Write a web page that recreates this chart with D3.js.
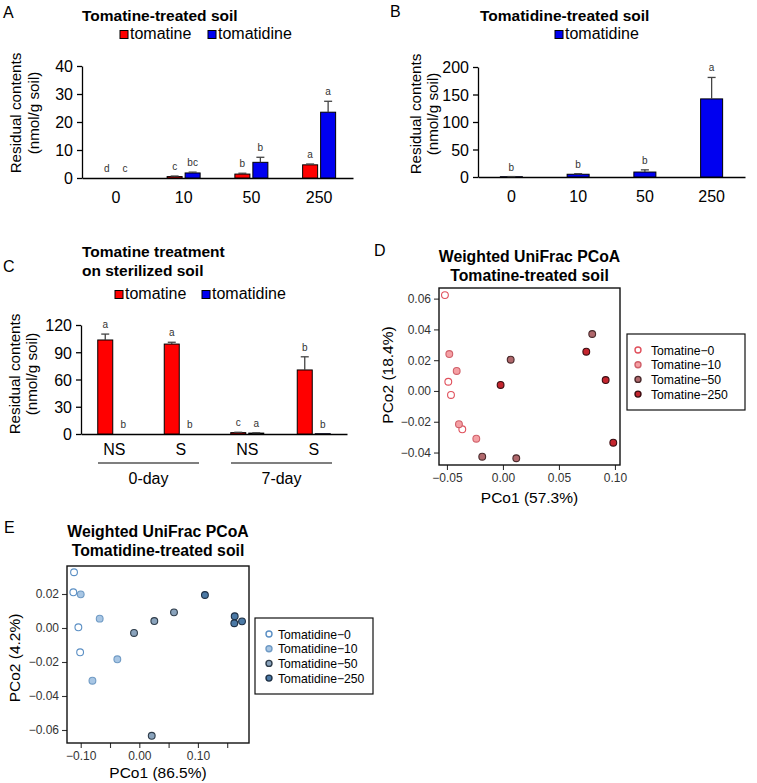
<!DOCTYPE html>
<html><head><meta charset="utf-8">
<script src="https://cdn.jsdelivr.net/npm/d3@7"></script>
<style>
body{margin:0;background:#fff}
svg{display:block}
text{font-family:"Liberation Sans",Arial,Helvetica,sans-serif}
</style>
</head><body>
<svg id="fig" width="757" height="783"></svg>
<script>
// ---------------- DATA ----------------
const doseLabels = ["0", "10", "50", "250"];
const tomatineA = [0, 0.5, 1.4, 4.7];
const tomatineAErr = [0, 0.2, 0.3, 0.3];
const tomatidineA = [0, 1.8, 5.6, 23.5];
const tomatidineAErr = [0, 0.3, 1.8, 3.9];
const tomatineALetters = ["d", "c", "b", "a"];
const tomatidineALetters = ["c", "bc", "b", "a"];
const ticksA = [0, 10, 20, 30, 40];

const tomatidineB = [0.5, 5, 9, 142];
const tomatidineBErr = [0.3, 1, 4, 39];
const tomatidineBLetters = ["b", "b", "b", "a"];
const ticksB = [0, 50, 100, 150, 200];

const soilC = ["NS", "S", "NS", "S"];
const dayC = ["0-day", "7-day"];
const tomatineC = [103.5, 99, 1.5, 70.5];
const tomatineCErr = [6.5, 2, 0.4, 14.5];
const tomatidineC = [0, 0, 1, 0.3];
const tomatidineCErr = [0, 0, 0.3, 0];
const tomatineCLetters = ["a", "a", "c", "b"];
const tomatidineCLetters = ["b", "b", "a", "b"];
const ticksC = [0, 30, 60, 90, 120];

const groupsD = ["Tomatine\u22120", "Tomatine\u221210", "Tomatine\u221250", "Tomatine\u2212250"];
const pc1D = [-0.0518, -0.0488, -0.0464, -0.0363,
              -0.0479, -0.0413, -0.0393, -0.0238,
               0.0069,  0.0797, -0.0185,  0.0119,
              -0.0021,  0.0744,  0.0917,  0.0985];
const pc2D = [ 0.0623,  0.0060, -0.0026, -0.0249,
               0.0240,  0.0130, -0.0216, -0.0310,
               0.0203,  0.0370, -0.0427, -0.0437,
               0.0039,  0.0255,  0.0071, -0.0336];
const groupOfD = [0,0,0,0, 1,1,1,1, 2,2,2,2, 3,3,3,3];
const xTicksD = [-0.05, 0, 0.05, 0.10];
const yTicksD = [-0.04, -0.02, 0, 0.02, 0.04, 0.06];

const groupsE = ["Tomatidine\u22120", "Tomatidine\u221210", "Tomatidine\u221250", "Tomatidine\u2212250"];
const pc1E = [-0.1114, -0.1126, -0.1040, -0.1010,
              -0.1000, -0.0676, -0.0375, -0.0800,
              -0.0090,  0.0256,  0.0592,  0.0212,
               0.1120,  0.1628,  0.1621,  0.1753];
const pc2E = [ 0.0328,  0.0210,  0.0004, -0.0143,
               0.0198,  0.0055, -0.0184, -0.0310,
              -0.0029,  0.0041,  0.0092, -0.0634,
               0.0194,  0.0069,  0.0028,  0.0039];
const groupOfE = [0,0,0,0, 1,1,1,1, 2,2,2,2, 3,3,3,3];
const xTicksE = [-0.10, -0.05, 0, 0.05, 0.10, 0.15];
const xTickLabelsE = ["\u22120.10", "", "0.00", "", "0.10", ""];
const yTicksE = [-0.06, -0.04, -0.02, 0, 0.02];

// ---------------- STYLES ----------------
const RED = "#ff0000", BLUE = "#0000f0";
const fillD = ["#ffffff", "#f5a0a4", "#b0686c", "#c4252e"];
const strokeD = ["#e0505c", "#d0606a", "#4a2a2c", "#3a0c10"];
const fillE = ["#ffffff", "#a8c6e4", "#8aa3bc", "#4b79a5"];
const strokeE = ["#5b8fc4", "#6f9ac4", "#2e3c4a", "#1e3045"];
const TITLE_FS = 15.5, LEG_FS = 16;

const svg = d3.select("#fig");
svg.append("rect").attr("width", 757).attr("height", 783).attr("fill", "#fff");

function panelLabel(t, x, y) {
  svg.append("text").attr("x", x).attr("y", y).attr("font-size", 16).text(t);
}

function yLabel2(x1, x2, cy) {
  svg.append("text").attr("transform", `translate(${x1},${cy}) rotate(-90)`)
    .attr("text-anchor", "middle").attr("font-size", 15.2).text("Residual contents");
  svg.append("text").attr("transform", `translate(${x2},${cy}) rotate(-90)`)
    .attr("text-anchor", "middle").attr("font-size", 15.2).text("(nmol/g soil)");
}

function legendSq(x, yb, color, label) {
  svg.append("rect").attr("x", x).attr("y", yb - 8.5).attr("width", 8).attr("height", 8)
    .attr("fill", color).attr("stroke", "#000").attr("stroke-width", 1);
  svg.append("text").attr("x", x + 10).attr("y", yb).attr("font-size", LEG_FS).text(label);
}

function styleAxis(g, fs) {
  g.selectAll("text").attr("font-family", "Liberation Sans, Arial, sans-serif")
    .attr("font-size", fs).attr("fill", "#000");
  g.selectAll("path,line").attr("stroke", "#000").attr("stroke-width", 1.3);
}

// generic bar chart
function barChart(o) {
  const x = d3.scaleBand().domain(d3.range(o.cats.length)).range([o.x0, o.x1]);
  const y = d3.scaleLinear().domain([0, o.ymax]).range([o.y0, o.y1]);
  const gy = svg.append("g").attr("transform", `translate(${o.x0},0)`)
    .call(d3.axisLeft(y).tickValues(o.ticks).tickSize(5).tickSizeOuter(0).tickPadding(4));
  styleAxis(gy, 16);
  gy.selectAll("text").attr("dy", "0.36em");
  const gx = svg.append("g").attr("transform", `translate(0,${o.y0})`)
    .call(d3.axisBottom(x).tickSize(0).tickSizeOuter(0).tickPadding(o.xpad).tickFormat(i => o.cats[i]));
  styleAxis(gx, 16);
  o.series.forEach(s => {
    const g = svg.append("g");
    const cx = i => x(i) + x.bandwidth() / 2 + s.off;
    g.selectAll("rect").data(s.vals).join("rect")
      .attr("x", (d, i) => cx(i) - s.w / 2).attr("width", s.w)
      .attr("y", d => y(d)).attr("height", d => y(0) - y(d))
      .attr("fill", s.color).attr("stroke", d => d > 0 ? "#000" : "none").attr("stroke-width", 1);
    s.vals.forEach((v, i) => {
      const e = s.err[i];
      if (e > 0) {
        g.append("line").attr("x1", cx(i)).attr("x2", cx(i)).attr("y1", y(v)).attr("y2", y(v + e))
          .attr("stroke", "#444").attr("stroke-width", 1.3);
        g.append("line").attr("x1", cx(i) - 4).attr("x2", cx(i) + 4).attr("y1", y(v + e)).attr("y2", y(v + e))
          .attr("stroke", "#444").attr("stroke-width", 1.3);
      }
      g.append("text").attr("x", cx(i)).attr("y", y(v + e) - 6).attr("text-anchor", "middle")
        .attr("font-size", 10).attr("fill", "#333").text(s.letters[i]);
    });
  });
  return { x, y };
}

// ---------- Panel A ----------
panelLabel("A", 3, 18);
svg.append("text").attr("x", 82).attr("y", 21).attr("font-size", TITLE_FS).attr("font-weight", "bold")
  .text("Tomatine-treated soil");
legendSq(120, 39, RED, "tomatine");
legendSq(208, 39, BLUE, "tomatidine");
yLabel2(21, 39, 113);
barChart({
  cats: doseLabels, x0: 82, x1: 353, y0: 178, y1: 66, ymax: 40, ticks: ticksA, xpad: 14,
  series: [
    { vals: tomatineA, err: tomatineAErr, letters: tomatineALetters, color: RED, off: -9, w: 15 },
    { vals: tomatidineA, err: tomatidineAErr, letters: tomatidineALetters, color: BLUE, off: 9, w: 15 }
  ]
});

// ---------- Panel B ----------
panelLabel("B", 390, 17);
svg.append("text").attr("x", 480).attr("y", 21).attr("font-size", TITLE_FS).attr("font-weight", "bold")
  .text("Tomatidine-treated soil");
legendSq(555, 39, BLUE, "tomatidine");
yLabel2(421, 438, 114);
barChart({
  cats: doseLabels, x0: 478, x1: 745, y0: 177, y1: 67, ymax: 200, ticks: ticksB, xpad: 14,
  series: [
    { vals: tomatidineB, err: tomatidineBErr, letters: tomatidineBLetters, color: BLUE, off: 0, w: 22 }
  ]
});

// ---------- Panel C ----------
panelLabel("C", 3, 272);
svg.append("text").attr("x", 82).attr("y", 257).attr("font-size", TITLE_FS).attr("font-weight", "bold")
  .text("Tomatine treatment");
svg.append("text").attr("x", 82).attr("y", 276).attr("font-size", TITLE_FS).attr("font-weight", "bold")
  .text("on sterilized soil");
legendSq(115, 299, RED, "tomatine");
legendSq(202, 299, BLUE, "tomatidine");
yLabel2(20, 37, 374);
const cC = barChart({
  cats: soilC, x0: 81, x1: 347, y0: 434, y1: 325, ymax: 120, ticks: ticksC, xpad: 10,
  series: [
    { vals: tomatineC, err: tomatineCErr, letters: tomatineCLetters, color: RED, off: -9, w: 15 },
    { vals: tomatidineC, err: tomatidineCErr, letters: tomatidineCLetters, color: BLUE, off: 9, w: 15 }
  ]
});
dayC.forEach((d, k) => {
  const a = cC.x(2 * k), b = cC.x(2 * k + 1) + cC.x.bandwidth();
  svg.append("line").attr("x1", a + 17).attr("x2", b - 15).attr("y1", 463).attr("y2", 463)
    .attr("stroke", "#000").attr("stroke-width", 1.2);
  svg.append("text").attr("x", (a + b) / 2 + 1).attr("y", 484).attr("text-anchor", "middle")
    .attr("font-size", 16).text(d);
});

// ---------- PCoA panels ----------
function pcoa(o) {
  const x = d3.scaleLinear().domain(o.xdom).range([o.left, o.right]);
  const y = d3.scaleLinear().domain(o.ydom).range([o.bottom, o.top]);
  const cx = (o.left + o.right) / 2;
  svg.append("text").attr("x", cx).attr("y", o.t1).attr("text-anchor", "middle")
    .attr("font-size", 15.8).attr("font-weight", "bold").text("Weighted UniFrac PCoA");
  svg.append("text").attr("x", cx).attr("y", o.t1 + 19).attr("text-anchor", "middle")
    .attr("font-size", 15.8).attr("font-weight", "bold").text(o.sub);
  const gx = svg.append("g").attr("transform", `translate(0,${o.bottom})`)
    .call(d3.axisBottom(x).tickValues(o.xticks).tickSize(5).tickSizeOuter(0).tickPadding(3)
      .tickFormat((d, i) => o.xlabels ? o.xlabels[i] : d3.format(".2f")(d)));
  const gy = svg.append("g").attr("transform", `translate(${o.left},0)`)
    .call(d3.axisLeft(y).tickValues(o.yticks).tickSize(5).tickSizeOuter(0).tickPadding(3)
      .tickFormat(d3.format(".2f")));
  [gx, gy].forEach(g => {
    g.select(".domain").remove();
    g.selectAll("line").attr("stroke", "#333").attr("stroke-width", 1.1);
    g.selectAll("text").attr("font-family", "Liberation Sans, Arial, sans-serif")
      .attr("font-size", 12).attr("fill", "#333");
  });
  svg.append("g").selectAll("circle").data(o.pc1).join("circle")
    .attr("cx", d => x(d)).attr("cy", (d, i) => y(o.pc2[i])).attr("r", 3.4)
    .attr("fill", (d, i) => o.fills[o.grp[i]]).attr("stroke", (d, i) => o.strokes[o.grp[i]])
    .attr("stroke-width", 1.1);
  svg.append("rect").attr("x", o.left).attr("y", o.top).attr("width", o.right - o.left)
    .attr("height", o.bottom - o.top).attr("fill", "none").attr("stroke", "#111").attr("stroke-width", 1.4);
  svg.append("text").attr("x", cx).attr("y", o.xlabY).attr("text-anchor", "middle")
    .attr("font-size", 15.5).text(o.xlab);
  svg.append("text").attr("transform", `translate(${o.ylabX},${o.ylabY}) rotate(-90)`)
    .attr("text-anchor", "middle").attr("font-size", 15.5).text(o.ylab);
  // legend
  const L = o.leg;
  svg.append("rect").attr("x", L.x).attr("y", L.y).attr("width", L.w).attr("height", L.h)
    .attr("fill", "#fff").attr("stroke", "#111").attr("stroke-width", 1.2);
  o.groups.forEach((gname, k) => {
    const yy = L.y + 16 + k * 14.7;
    svg.append("circle").attr("cx", L.cx).attr("cy", yy).attr("r", 3)
      .attr("fill", o.fills[k]).attr("stroke", o.strokes[k]).attr("stroke-width", 1.4);
    svg.append("text").attr("x", L.tx).attr("y", yy + 4.5).attr("font-size", 12.2).text(gname);
  });
}

panelLabel("D", 374, 256);
pcoa({
  left: 439, right: 620, top: 288, bottom: 465, t1: 262, xlabY: 503,
  xdom: [-0.0571, 0.1045], ydom: [-0.0481, 0.0669],
  xticks: xTicksD, yticks: yTicksD,
  pc1: pc1D, pc2: pc2D, grp: groupOfD, groups: groupsD, fills: fillD, strokes: strokeD,
  sub: "Tomatine-treated soil", xlab: "PCo1 (57.3%)", ylab: "PCo2 (18.4%)", ylabX: 393, ylabY: 375,
  leg: { x: 627, y: 334, w: 118, h: 76, cx: 638, tx: 651 }
});

panelLabel("E", 4, 533);
pcoa({
  left: 67, right: 249, top: 566, bottom: 743, t1: 537, xlabY: 778,
  xdom: [-0.1234, 0.1872], ydom: [-0.06765, 0.03647],
  xticks: xTicksE, xlabels: xTickLabelsE, yticks: yTicksE,
  pc1: pc1E, pc2: pc2E, grp: groupOfE, groups: groupsE, fills: fillE, strokes: strokeE,
  sub: "Tomatidine-treated soil", xlab: "PCo1 (86.5%)", ylab: "PCo2 (4.2%)", ylabX: 20, ylabY: 658,
  leg: { x: 255, y: 618, w: 118, h: 76, cx: 269, tx: 278 }
});
</script>
</body></html>
